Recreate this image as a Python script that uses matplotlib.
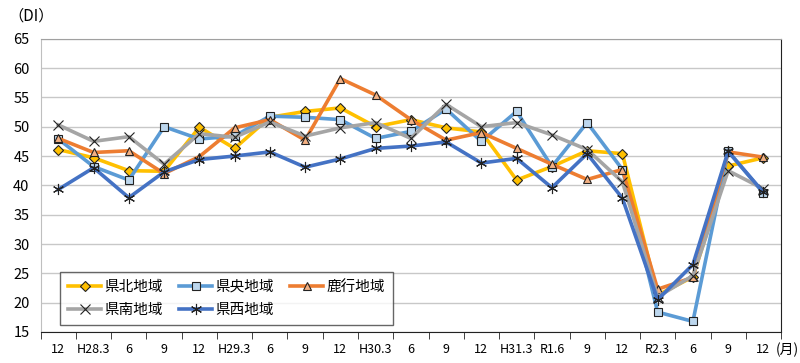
import matplotlib
matplotlib.use("Agg")
import matplotlib.pyplot as plt
import numpy as np

plt.rcParams['font.family'] = ['Noto Sans CJK JP', 'DejaVu Sans']

categories = ["12", "H28.3", "6", "9", "12", "H29.3", "6", "9", "12", "H30.3", "6", "9",
              "12", "H31.3", "R1.6", "9", "12", "R2.3", "6", "9", "12"]

kenpoku = [46.1, 44.7, 42.5, 42.4, 49.9, 46.3, 51.6, 52.6, 53.2, 50.0, 51.2, 49.8,
           49.1, 40.9, 43.2, 45.9, 45.4, 21.3, 24.4, 43.3, 44.7]
kenou = [47.9, 43.2, 40.9, 50.0, 47.9, 48.4, 51.8, 51.6, 51.2, 48.0, 49.2, 53.0,
         47.5, 52.6, 43.2, 50.7, 42.7, 18.4, 16.8, 45.8, 38.7]
rokko = [48.0, 45.6, 45.9, 42.0, 44.9, 49.8, 51.2, 47.7, 58.2, 55.4, 51.2, 47.7,
         49.0, 46.3, 43.6, 41.0, 42.7, 22.3, 24.3, 45.7, 44.8]
kennan = [50.3, 47.5, 48.3, 43.6, 48.8, 48.2, 50.8, 48.4, 49.8, 50.7, 48.0, 53.8,
          50.0, 50.7, 48.6, 46.1, 40.6, 21.0, 24.6, 42.5, 39.4]
kensei = [39.3, 43.0, 37.9, 42.3, 44.4, 45.0, 45.7, 43.1, 44.5, 46.3, 46.7, 47.4,
          43.8, 44.6, 39.6, 45.4, 37.8, 20.5, 26.5, 45.8, 38.8]

series_names = ["県北地域", "県央地域", "鹿行地域", "県南地域", "県西地域"]
series_values = [kenpoku, kenou, rokko, kennan, kensei]
colors = ["#FFC000", "#5B9BD5", "#ED7D31", "#A5A5A5", "#4472C4"]
markers = ["D", "s", "^", "x", (6, 2, 0)]
msizes = [5.5, 6, 6, 7, 8]
facecols = ["#FFC000", "#BDD7EE", "#F4B183", "none", "none"]

fig = plt.figure(figsize=(8, 3.63), dpi=100)
ax = fig.add_axes([0.0509, 0.0854, 0.9254, 0.8080])

x = np.arange(len(categories))
handles = []
for name, vals, c, m, ms, fc in zip(series_names, series_values, colors, markers, msizes, facecols):
    h, = ax.plot(x, vals, color=c, lw=2.6, marker=m, markersize=ms,
                 markerfacecolor=fc, markeredgecolor="#222222", markeredgewidth=0.8,
                 label=name, solid_joinstyle="round")
    handles.append(h)

ax.set_xlim(-0.5, len(categories) - 0.5)
ax.set_ylim(15, 65)
ax.set_yticks(np.arange(15, 66, 5))
ax.set_xticks(x)
ax.set_xticklabels(categories, fontsize=9)
ax.set_xticks(np.arange(-0.5, len(categories), 1), minor=True)
ax.tick_params(axis="x", which="major", length=0, pad=8)
ax.tick_params(axis="x", which="minor", length=5, direction="out", color="#222222")
ax.tick_params(axis="y", length=0, labelsize=10.5, pad=8)
ax.yaxis.grid(True, color="#C8C8C8", lw=1.0)
ax.set_axisbelow(True)

ax.spines["left"].set_color("#BFBFBF")
ax.spines["top"].set_color("#A0A0A0")
ax.spines["right"].set_color("#222222")
ax.spines["bottom"].set_color("#222222")

fig.text(0.01, 0.955, "（DI）", fontsize=11, ha="left", va="center")
fig.text(0.999, 0.037, "(月)", fontsize=10, ha="right", va="center")

order = [0, 3, 1, 4, 2]
leg = ax.legend([handles[i] for i in order], [series_names[i] for i in order],
                loc="lower left", bbox_to_anchor=(0.016, 0.0), ncol=3, fontsize=10.5,
                frameon=True, fancybox=False, edgecolor="#404040", handlelength=2.3,
                columnspacing=1.1, borderpad=0.55, labelspacing=0.6, handletextpad=0.2,
                borderaxespad=0.5)
leg.get_frame().set_linewidth(1.0)

fig.savefig("out.png", dpi=100, facecolor="white")
